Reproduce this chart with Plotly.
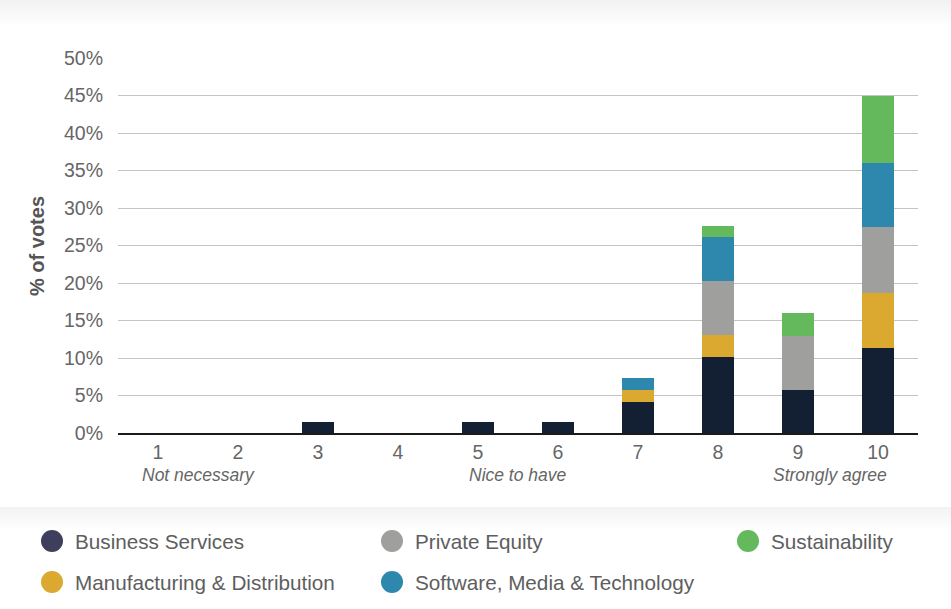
import plotly.graph_objects as go

# Rating scale (1 = not necessary ... 10 = strongly agree)
ratings = [1, 2, 3, 4, 5, 6, 7, 8, 9, 10]

# Share of votes (%) per sector, stacked bottom to top
business_services = [0, 0, 1.5, 0, 1.5, 1.5, 4.2, 10.1, 5.8, 11.3]
manufacturing_distribution = [0, 0, 0, 0, 0, 0, 1.6, 3.0, 0, 7.4]
private_equity = [0, 0, 0, 0, 0, 0, 0, 7.2, 7.2, 8.8]
software_media_tech = [0, 0, 0, 0, 0, 0, 1.5, 5.8, 0, 8.5]
sustainability = [0, 0, 0, 0, 0, 0, 0, 1.5, 3.0, 9.0]

series = [
    ("Business Services", business_services, "#131f33", "#3d3f5c"),
    ("Manufacturing & Distribution", manufacturing_distribution, "#dba830", "#dba830"),
    ("Private Equity", private_equity, "#9f9f9d", "#9f9f9d"),
    ("Software, Media & Technology", software_media_tech, "#2e87ad", "#2e87ad"),
    ("Sustainability", sustainability, "#64b95d", "#64b95d"),
]

scale_notes = [(1.5, "Not necessary"), (5.5, "Nice to have"), (9.4, "Strongly agree")]

W, H = 951, 609
ML, MR, MT, MB = 118, 33, 58, 176
PH = H - MT - MB
PW = W - ML - MR
FONT = "Liberation Sans, Arial, sans-serif"


def px_to_paper_y(py):
    return (H - MB - py) / PH


def px_to_paper_x(px):
    return (px - ML) / PW


fig = go.Figure()
for name, vals, color, _ in series:
    fig.add_trace(go.Bar(
        x=ratings, y=vals, name=name, marker=dict(color=color, line=dict(width=0)),
        showlegend=False, hovertemplate="%{y:.1f}%<extra>" + name + "</extra>",
    ))

shapes = []
annotations = []


# soft shading bands at the top edge and above the legend
def band(y_top_px, y_bot_px, steps=12):
    for i in range(steps):
        t = i / steps
        c = int(242 + (255 - 242) * t)
        y0 = y_top_px + (y_bot_px - y_top_px) * i / steps
        y1 = y_top_px + (y_bot_px - y_top_px) * (i + 1) / steps
        shapes.append(dict(
            type="rect", xref="paper", yref="paper", layer="below",
            x0=px_to_paper_x(0), x1=px_to_paper_x(W),
            y0=px_to_paper_y(y1), y1=px_to_paper_y(y0),
            fillcolor=f"rgb({c},{c},{c})", line=dict(width=0),
        ))


band(0, 24)
band(507, 528)

# axis title
annotations.append(dict(
    text="<b>% of votes</b>", textangle=-90, xref="paper", yref="paper",
    x=px_to_paper_x(37), y=px_to_paper_y(246), xanchor="center", yanchor="middle",
    showarrow=False, font=dict(size=20, color="#555555", family=FONT),
))

# italic scale notes under the ticks
for xv, txt in scale_notes:
    annotations.append(dict(
        text=f"<i>{txt}</i>", x=xv, xref="x", yref="paper", y=px_to_paper_y(475),
        xanchor="center", yanchor="middle", showarrow=False,
        font=dict(size=17.5, color="#666666", family=FONT),
    ))

# legend: circle swatch + label
legend_pos = {
    "Business Services": (52, 541),
    "Private Equity": (392, 541),
    "Sustainability": (748, 541),
    "Manufacturing & Distribution": (52, 582),
    "Software, Media & Technology": (392, 582),
}
for name, _, _, swatch in series:
    cx, cy = legend_pos[name]
    shapes.append(dict(
        type="circle", xref="paper", yref="paper", xsizemode="pixel", ysizemode="pixel",
        xanchor=px_to_paper_x(cx), yanchor=px_to_paper_y(cy),
        x0=-11, x1=11, y0=-11, y1=11, fillcolor=swatch, line=dict(width=0),
    ))
    annotations.append(dict(
        text=name, xref="paper", yref="paper", x=px_to_paper_x(cx + 21), y=px_to_paper_y(cy),
        xanchor="left", yanchor="middle", showarrow=False,
        font=dict(size=20.7, color="#5e5e5e", family=FONT),
    ))

fig.update_layout(
    width=W, height=H, margin=dict(l=ML, r=MR, t=MT, b=MB),
    barmode="stack", bargap=0.6,
    paper_bgcolor="white", plot_bgcolor="white",
    shapes=shapes, annotations=annotations,
    font=dict(family=FONT, color="#666666"),
    xaxis=dict(
        range=[0.5, 10.5], tickmode="array", tickvals=ratings, ticktext=[str(r) for r in ratings],
        showgrid=False, showline=True, linecolor="#1a1a1a", linewidth=1.5,
        ticks="", tickfont=dict(size=19.5, color="#666666"), ticklabelstandoff=1, fixedrange=True,
    ),
    yaxis=dict(
        range=[0, 50], dtick=5, ticksuffix="%", showgrid=True, gridcolor="#c4c4c4", gridwidth=1.2,
        zeroline=False, ticks="", tickfont=dict(size=19.5, color="#666666"), ticklabelstandoff=14,
        fixedrange=True,
    ),
)

fig.write_html("out.html")
